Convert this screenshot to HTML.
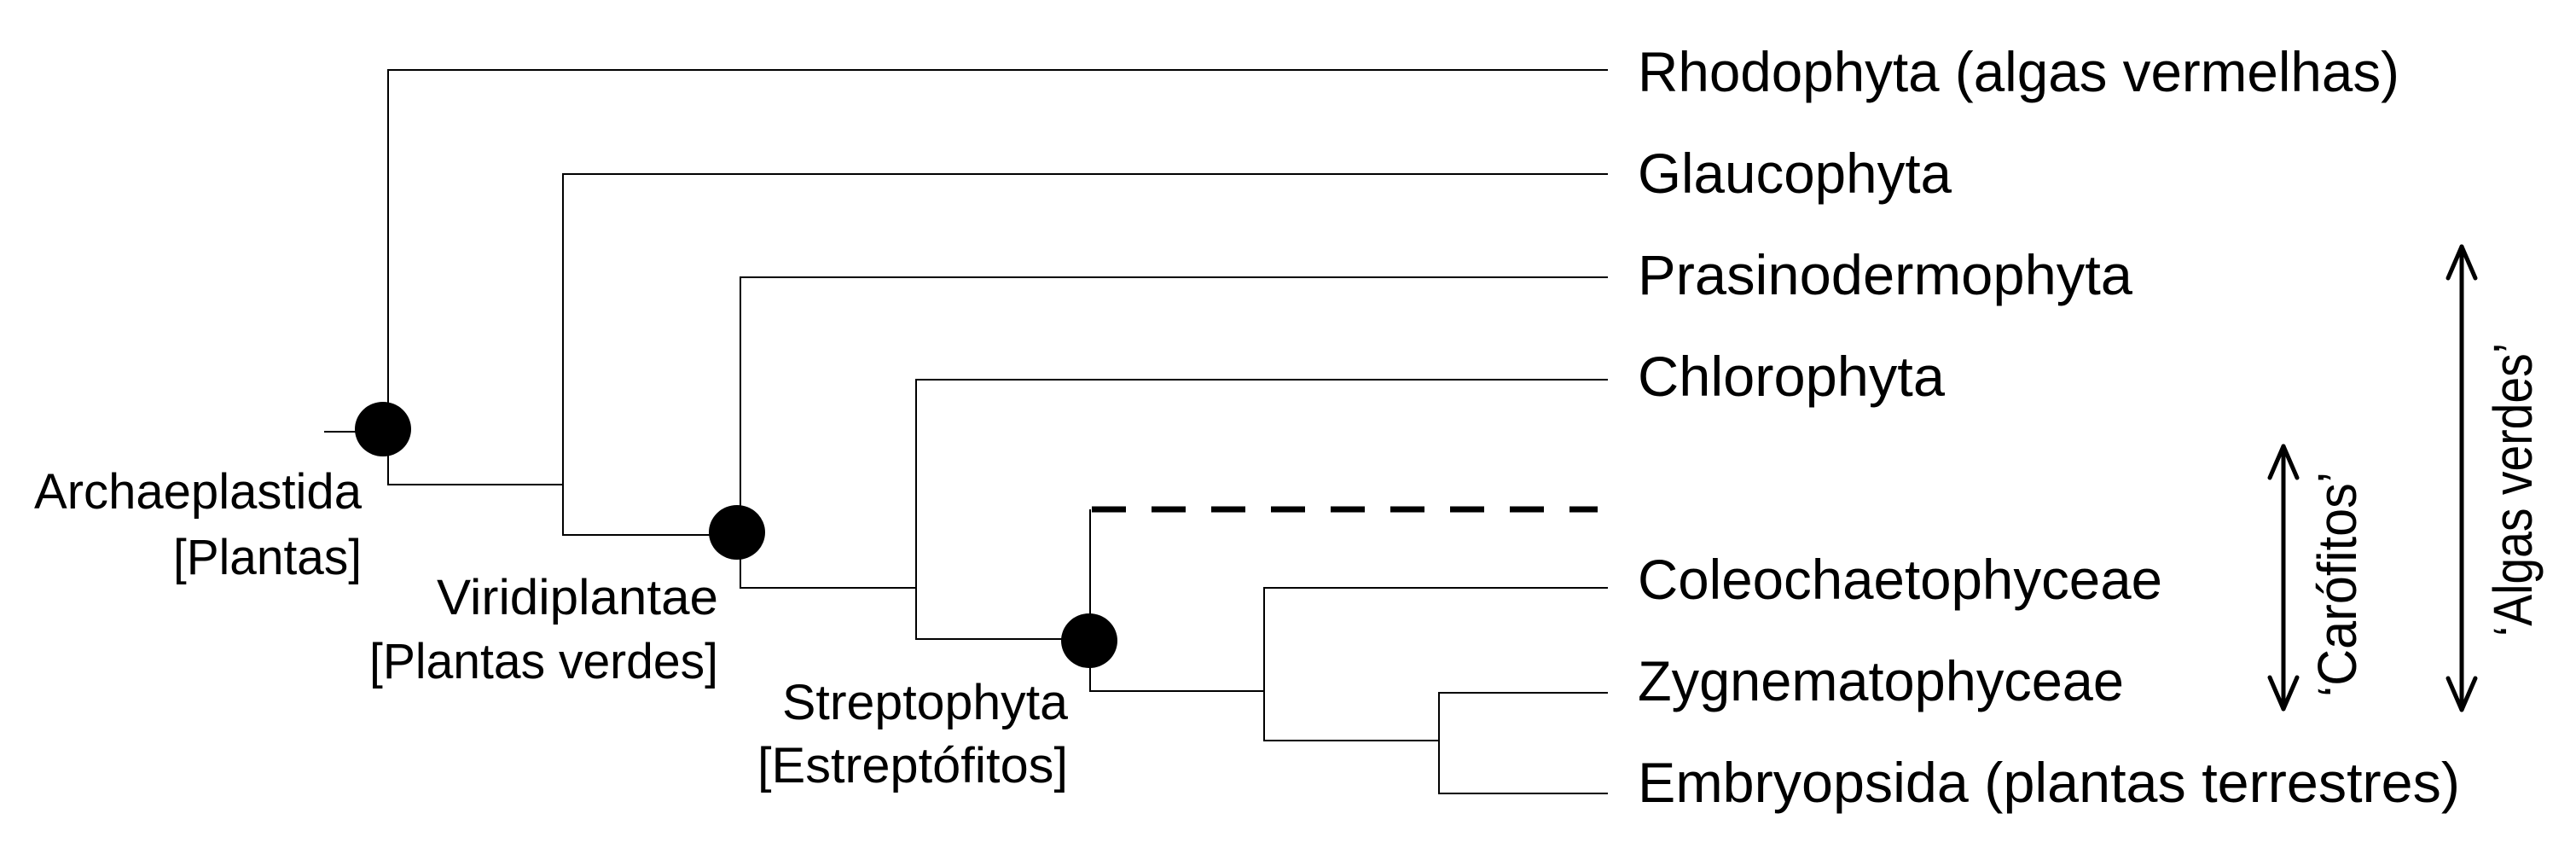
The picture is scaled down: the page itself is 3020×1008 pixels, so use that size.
<!DOCTYPE html>
<html><head><meta charset="utf-8"><style>
html,body{margin:0;padding:0;background:#fff;}
svg{display:block;}
text{font-family:"Liberation Sans",sans-serif;fill:#000;}
</style></head><body>
<svg width="3020" height="1008" viewBox="0 0 3020 1008" xmlns="http://www.w3.org/2000/svg">
<g stroke="#000" stroke-width="2" fill="none">
<path d="M380 506 H449"/>
<path d="M1885 82 H455 V568 H660"/>
<path d="M1885 204 H660 V627 H868"/>
<path d="M1885 325 H868 V689 H1074"/>
<path d="M1885 445 H1074 V749 H1278"/>
<path d="M1278 597 V810 H1482"/>
<path d="M1885 689 H1482 V868 H1687"/>
<path d="M1885 812 H1687 V930 H1885"/>
</g>
<path d="M1280 597 H1873" stroke="#000" stroke-width="7" stroke-dasharray="40 30" fill="none"/>
<g fill="#000">
<ellipse cx="449" cy="503" rx="33" ry="32"/>
<ellipse cx="864" cy="624" rx="33" ry="32"/>
<ellipse cx="1277" cy="751" rx="33" ry="32"/>
</g>
<g stroke="#000" stroke-width="5" fill="none" stroke-linecap="round" stroke-linejoin="round">
<path d="M2677 523 V831"/>
<path d="M2661 560 L2677 523 L2693 560"/>
<path d="M2661 794 L2677 831 L2693 794"/>
<path d="M2886 289 V832"/>
<path d="M2870 326 L2886 289 L2902 326"/>
<path d="M2870 795 L2886 832 L2902 795"/>
</g>
<g font-size="66">
<text x="1920" y="107" textLength="893" lengthAdjust="spacingAndGlyphs">Rhodophyta (algas vermelhas)</text>
<text x="1920" y="226" textLength="368" lengthAdjust="spacingAndGlyphs">Glaucophyta</text>
<text x="1920" y="345" textLength="580" lengthAdjust="spacingAndGlyphs">Prasinodermophyta</text>
<text x="1920" y="464" textLength="360" lengthAdjust="spacingAndGlyphs">Chlorophyta</text>
<text x="1920" y="702" textLength="615" lengthAdjust="spacingAndGlyphs">Coleochaetophyceae</text>
<text x="1920" y="821" textLength="570" lengthAdjust="spacingAndGlyphs">Zygnematophyceae</text>
<text x="1920" y="940" textLength="964" lengthAdjust="spacingAndGlyphs">Embryopsida (plantas terrestres)</text>
</g>
<g font-size="58">
<text x="40" y="596" textLength="384" lengthAdjust="spacingAndGlyphs">Archaeplastida</text>
<text x="203" y="673" textLength="221" lengthAdjust="spacingAndGlyphs">[Plantas]</text>
<text x="512" y="720" textLength="330" lengthAdjust="spacingAndGlyphs">Viridiplantae</text>
<text x="433" y="795" textLength="409" lengthAdjust="spacingAndGlyphs">[Plantas verdes]</text>
<text x="917" y="843" textLength="335" lengthAdjust="spacingAndGlyphs">Streptophyta</text>
<text x="888" y="917" textLength="364" lengthAdjust="spacingAndGlyphs">[Estreptófitos]</text>
</g>
<g font-size="64">
<text transform="translate(2762 817) rotate(-90)" textLength="264" lengthAdjust="spacingAndGlyphs">‘Carófitos’</text>
<text transform="translate(2968 746) rotate(-90)" textLength="344" lengthAdjust="spacingAndGlyphs">‘Algas verdes’</text>
</g>
</svg>
</body></html>
